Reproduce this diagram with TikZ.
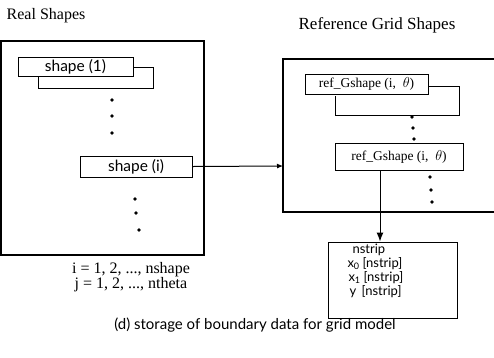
\documentclass[tikz,border=0pt]{standalone}
\usepackage{fontspec}
\setmainfont{Liberation Serif}
\newfontfamily\optfont{Lato}
\usepackage{tikz}
\usetikzlibrary{arrows.meta}

\newcommand{\subz}[1]{\raisebox{-2pt}{\fontsize{9}{10}\selectfont #1}}

\begin{document}
\begin{tikzpicture}[x=1pt, y=-1pt, line width=1pt,
                box/.style={draw, inner sep=0pt},
                dot/.style={circle, fill, inner sep=0pt, minimum size=3.8pt},
                storetext/.style={anchor=west, inner sep=0pt, font=\optfont\fontsize{13}{13}\selectfont}]
                \useasboundingbox (0, 0) rectangle (494, 357);
                % titles
                \node[font=\fontsize{16}{18}\selectfont] (realtitle) at (46, 16) {Real Shapes};
                \node[font=\fontsize{17}{19}\selectfont] (reftitle) at (377, 25) {Reference Grid Shapes};
                % left frame
                \draw[line width=1.2pt] (1, 41) rectangle (204, 255);
                \draw (133, 67) -| (153, 88) -| (38, 76);
                \node[box, fill=white, minimum width=115pt, minimum height=19pt, font=\optfont\fontsize{15.5}{17}\selectfont] (shapeone) at (75.5, 66.5) {shape (1)};
                \foreach \y in {100, 116, 133} {
                        \node[dot] (ldot\y) at (112, \y) {};
                }
                \node[box, minimum width=112pt, minimum height=21pt, font=\optfont\fontsize{15.5}{17}\selectfont] (shapei) at (136, 166.5) {shape (i)};
                \foreach \y/\x in {199/135, 213/136, 230/139} {
                        \node[dot] (ldot\y) at (\x, \y) {};
                }
                \node[font=\fontsize{16}{18}\selectfont] (irange) at (131, 270) {i = 1, 2, ..., nshape};
                \node[font=\fontsize{16}{18}\selectfont] (jrange) at (131, 285) {j = 1, 2, ..., ntheta};
                % right frame, open to the right
                \draw[line width=1.2pt] (494, 59) -- (283, 59) -- (283, 212) -- (494, 212);
                \coordinate (rframe) at (283, 166);
                \draw (428, 86) -| (459, 115) -| (335, 96);
                \node[box, fill=white, minimum width=123pt, minimum height=20pt, font=\fontsize{13.5}{15}\selectfont] (gshapeone) at (366.5, 84) {ref\_Gshape (i,\ \ $\theta$)};
                \foreach \y/\x in {117/412, 128/413, 139/414} {
                        \node[dot] (rdot\y) at (\x, \y) {};
                }
                \node[box, minimum width=128pt, minimum height=27pt, font=\fontsize{13.5}{15}\selectfont] (gshapej) at (399, 156.5) {ref\_Gshape (i,\ \ $\theta$)};
                \foreach \y/\x in {177/430, 190/431, 202/432} {
                        \node[dot] (rdot\y) at (\x, \y) {};
                }
                % storage box
                \node[box, minimum width=129pt, minimum height=76pt] (store) at (392.5, 280) {};
                \node[storetext] (nstrip) at (352, 250) {nstrip};
                \node[storetext] (xzero) at (347, 264) {x\subz{0} [nstrip]};
                \node[storetext] (xone) at (348, 278) {x\subz{1} [nstrip]};
                \node[storetext] (yarr) at (349, 292) {y \,[nstrip]};
                % connectors
                \draw[-{Latex[length=6pt, width=5pt]}] (shapei.east) -- (rframe);
                \draw[-{Latex[length=9pt, width=7pt]}] (gshapej.south -| 380, 0) -- (store.north -| 380, 0);
                % caption
                \node[font=\optfont\fontsize{15}{17}\selectfont] (caption) at (255, 325) {(d) storage of boundary data for grid model};
        \end{tikzpicture}
\end{document}
